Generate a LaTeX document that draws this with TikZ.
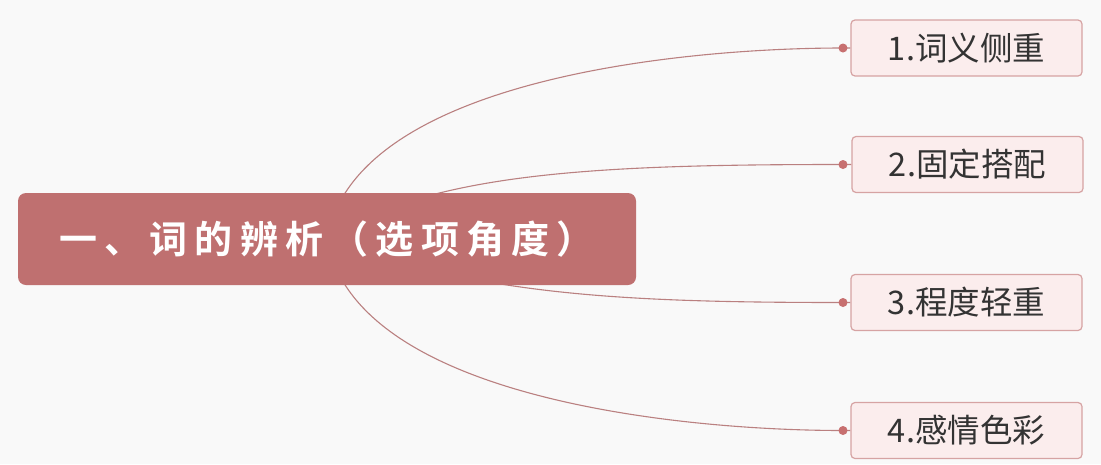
\documentclass[tikz,border=0pt]{standalone}
\usepackage{fontspec}
\newfontfamily\cjkbold[LetterSpace=19]{Noto Sans CJK SC Bold}
\newfontfamily\cjk{Noto Sans CJK SC}
\usetikzlibrary{backgrounds}
\definecolor{mainfill}{RGB}{191,112,112}
\definecolor{childfill}{RGB}{251,237,237}
\definecolor{childborder}{RGB}{214,163,163}
\definecolor{linkcol}{RGB}{186,128,128}
\definecolor{dotcol}{RGB}{199,112,112}
\definecolor{bgcol}{RGB}{249,249,249}
\definecolor{txtcol}{RGB}{51,51,51}
\tikzset{
  mainbox/.style={rectangle, rounded corners=8pt, fill=mainfill, minimum width=618pt, minimum height=92pt, inner sep=0pt, text=white, font=\cjkbold\fontsize{38}{42}\selectfont},
  childbox/.style={rectangle, rounded corners=4pt, fill=childfill, draw=childborder, line width=1.2pt, minimum width=231pt, minimum height=56pt, inner sep=0pt, text=txtcol, font=\cjk\fontsize{32.5}{36}\selectfont},
  link/.style={draw=linkcol, line width=1.1pt},
  dotmark/.style={circle, fill=dotcol, inner sep=0pt, minimum size=9pt}
}
\begin{document}
\begin{tikzpicture}[x=1pt,y=-1pt]
\useasboundingbox (0,0) rectangle (1101,464);
\node[mainbox] (main) at (327,239) {一、词的辨析（选项角度）};
\node[childbox] (c1) at (966.5,48) {1.词义侧重};
\node[childbox] (c2) at (967.5,164.5) {2.固定搭配};
\node[childbox] (c3) at (966.5,302.5) {3.程度轻重};
\node[childbox] (c4) at (966.5,430.5) {4.感情色彩};
\coordinate (d1) at (843,48);
\coordinate (d2) at (843,164.5);
\coordinate (d3) at (843,302.5);
\coordinate (d4) at (843,430.5);
\begin{scope}[on background layer]
\fill[bgcol] (0,0) rectangle (1101,464);
\draw[link] (main.center) .. controls (355,80) and (680,48) .. (d1) -- (c1.west);
\draw[link] (main.center) .. controls (430,172) and (600,164.5) .. (d2) -- (c2.west);
\draw[link] (main.center) .. controls (480,295) and (620,302.5) .. (d3) -- (c3.west);
\draw[link] (main.center) .. controls (355,398) and (680,430.5) .. (d4) -- (c4.west);
\end{scope}
\node[dotmark] at (d1) {};
\node[dotmark] at (d2) {};
\node[dotmark] at (d3) {};
\node[dotmark] at (d4) {};
\end{tikzpicture}
\end{document}
